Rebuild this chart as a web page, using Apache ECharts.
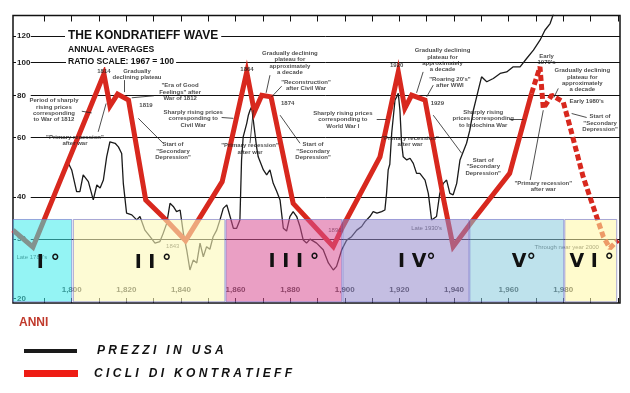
<!DOCTYPE html>
<html><head><meta charset="utf-8">
<script src="https://cdn.jsdelivr.net/npm/echarts@6/dist/echarts.min.js"></script>
<style>html,body{margin:0;padding:0;background:#fff}#c{width:630px;height:393px}</style>
</head><body><div id="c"></div>
<script>
// ---- data ----
const priceYears = [1798.2,1800.0,1801.8,1803.0,1804.2,1806.1,1807.9,1809.2,1810.4,1811.6,1812.8,1814.0,1815.9,1817.1,1818.3,1818.9,1820.1,1822.0,1823.8,1825.0,1826.8,1828.7,1830.5,1832.3,1833.5,1834.8,1836.0,1837.2,1838.4,1839.7,1840.9,1842.1,1843.3,1844.5,1845.8,1847.0,1848.2,1849.4,1850.6,1851.8,1853.1,1854.3,1855.5,1856.8,1858.0,1859.2,1860.4,1861.6,1862.2,1862.8,1864.1,1864.7,1865.3,1865.9,1866.5,1867.1,1867.7,1868.3,1868.9,1870.2,1871.4,1872.6,1873.8,1875.1,1876.3,1877.5,1878.7,1879.9,1881.1,1882.4,1883.6,1884.8,1886.0,1887.3,1889.7,1892.1,1894.0,1895.8,1897.0,1898.9,1900.7,1902.5,1904.4,1906.2,1907.4,1909.2,1910.4,1911.8,1913.5,1914.7,1915.3,1915.9,1916.5,1917.2,1918.4,1919.0,1919.6,1920.2,1920.8,1921.4,1922.7,1923.9,1925.1,1926.3,1927.5,1929.4,1930.6,1931.8,1933.6,1934.8,1936.1,1937.3,1938.5,1939.7,1941.0,1942.2,1944.6,1945.8,1947.1,1948.3,1948.9,1950.1,1952.0,1954.4,1956.9,1959.3,1961.7,1964.2,1966.6,1969.1,1971.5,1973.3,1975.2,1976.5];
const priceValues = [51.5,48.1,41.5,41.5,46.5,44.4,39.2,43.4,42.5,44.9,52.6,58.3,57.7,56.3,53.8,43.9,35.8,35.4,34.2,35.0,31.9,30.5,29.2,29.5,31.2,33.4,38.3,37.5,36.2,36.6,31.2,27.9,24.3,26.0,25.5,29.2,26.6,28.5,28.0,30.5,31.9,34.2,37.0,37.9,35.0,32.3,32.3,34.2,51.5,60.3,66.1,69.9,72.3,74.0,67.6,61.7,56.3,52.6,52.6,48.1,46.5,48.1,43.9,41.5,39.2,32.3,31.7,35.0,36.2,35.0,32.7,29.8,29.2,30.0,29.2,27.9,25.5,24.3,24.9,27.9,29.8,30.5,31.9,32.7,33.8,35.0,36.2,35.8,36.2,36.6,41.0,48.1,50.0,62.0,77.5,79.2,81.1,72.3,58.0,52.6,51.5,52.1,50.3,47.0,47.0,44.9,41.0,34.2,35.0,41.0,43.9,44.9,41.0,40.6,43.9,51.5,57.7,63.1,72.3,79.2,82.9,90.8,87.8,89.8,92.9,93.9,97.2,97.2,102.9,108.9,116.6,124.8,130.6,140];

const cycleYears = [1778.5,1785.8,1811.8,1814.0,1816.8,1820.8,1827.1,1834.2,1841.7,1855.1,1864.1,1866.9,1869.6,1873.0,1881.1,1895.8,1899.3,1912.9,1919.6,1922.0,1924.5,1929.4,1936.1,1939.7,1947.0,1960.4,1968.4];
const cycleValues = [31.9,28.4,92.5,74.4,80.7,77.5,39.2,34.4,29.7,44.4,93.9,71.5,80.1,79.2,38.3,28.5,32.7,52.6,93.9,73.2,80.1,77.5,39.7,28.5,34.2,47.0,81.1];

const forecastYears = [1968.4,1971.5,1972.7,1975.8,1980.0,1982.5,1987.3,1994.7,1997.1,2000.1];
const forecastValues = [81.1,97.2,73.2,80.1,76.6,64.6,45.9,30.5,28.2,29.8];

const xTickLabels = [1800,1820,1840,1860,1880,1900,1920,1940,1960,1980];
const xTicks = [1790,1800,1810,1820,1830,1840,1850,1860,1870,1880,1890,1900,1910,1920,1930,1940,1950,1960,1970,1980,1990,2000];
const yTickLabels = [20,30,40,60,80,100,120];
const gridValues = [30,40,60,80,100,120];

const waveNames = ['I °','I I °','I I I °','I V°','V°','V I °'];
const waveStart = [1777,1800.6,1856.5,1899.3,1945.8,1980.6];
const waveEnd = [1800,1856.1,1898.9,1945.5,1980.2,1999.6];
const waveTop = 34.3, waveBottom = 19.56;

const notes = [
 [1811.8,94.4,'1814'],
 [1823.9,92.5,'Gradually\ndeclining plateau'],
 [1839.7,81.8,'"Era of Good\nFeelings" after\nWar of 1812'],
 [1827.2,74.8,'1819'],
 [1793.5,72.3,'Period of sharply\nrising prices\ncorresponding\nto War of 1812'],
 [1801.2,59.0,'"Primary recession"\nafter war'],
 [1844.5,68.2,'Sharply rising prices\ncorresponding to\nCivil War'],
 [1837.1,54.7,'Start of\n"Secondary\nDepression"'],
 [1864.2,95.7,'1864'],
 [1879.9,100,'Gradually declining\nplateau for\napproximately\na decade'],
 [1885.8,85.8,'"Reconstruction"\nafter Civil War'],
 [1879.1,76.0,'1874'],
 [1899.3,67.8,'Sharply rising prices\ncorresponding to\nWorld War I'],
 [1865.3,55.6,'"Primary recession"\nafter war'],
 [1888.4,54.7,'Start of\n"Secondary\nDepression"'],
 [1923.9,58.6,'"Primary recession"\nafter war'],
 [1919.0,97.9,'1920'],
 [1935.8,101.7,'Gradually declining\nplateau for\napproximately\na decade'],
 [1938.5,87.6,'"Roaring 20\'s"\nafter WWI'],
 [1933.9,75.7,'1929'],
 [1950.7,68.2,'Sharply rising\nprices corresponding\nto Indochina War'],
 [1950.7,49.2,'Start of\n"Secondary\nDepression"'],
 [1972.7,43.1,'"Primary recession"\nafter war'],
 [1973.9,102.1,'Early\n1970\'s'],
 [1987.0,88.8,'Gradually declining\nplateau for\napproximately\na decade'],
 [1988.6,76.6,'Early 1980\'s'],
 [1993.5,66.2,'Start of\n"Secondary\nDepression"']
];
const lowNotes = [
 [1785.4,26.5,'Late 1780\'s'],
 [1837.0,28.5,'1843'],
 [1896.4,31.9,'1896'],
 [1930.0,32.2,'Late 1930\'s'],
 [1981.3,28.4,'Through near year 2000']
];
const arrows = [
 [1819.3,88.8,1819.3,81.8],
 [1830.1,79.8,1822.0,78.7],
 [1803.7,71.8,1807.3,71.0],
 [1809.7,62.4,1812.6,75.7],
 [1833.5,57.7,1824.4,68.4],
 [1854.9,68.8,1859.2,68.4],
 [1872.6,91.8,1871.2,81.4],
 [1876.9,85.2,1873.2,79.2],
 [1865.3,57.7,1866.5,72.3],
 [1883.6,57.7,1876.3,69.9],
 [1911.7,68.2,1915.3,68.2],
 [1928.7,93.9,1926.3,81.4],
 [1932.4,85.8,1930.0,79.2],
 [1942.8,53.9,1932.4,69.9],
 [1960.5,67.9,1965.4,67.9],
 [1967.9,44.9,1972.7,72.3],
 [1978.2,83.9,1976.6,78.9],
 [1988.6,68.8,1983.1,70.7]
];

// ---- styles ----
const F = '"Liberation Sans", Arial, sans-serif';
const waveColors = ['rgba(60,235,235,0.55)','rgba(251,249,184,0.6)','rgba(217,81,148,0.55)','rgba(148,137,203,0.55)','rgba(137,202,221,0.55)','rgba(255,248,164,0.55)'];
const waveOffsets = [[6,2],[4,2],[10,1],[11,1],[7,1],[1,1]];
const X_MIN = 1778.5, X_MAX = 2000.8, Y_MIN = 19.4, Y_MAX = 138;

const zip = (a,b) => a.map((v,i)=>[v,b[i]]);
const spaced = s => s.split(' ').map(w=>w.split('').join(' ')).join('   ');

const chart = echarts.init(document.getElementById('c'));
chart.setOption({
  animation:false,
  textStyle:{fontFamily:F},
  grid:{left:13,right:10,top:15.5,bottom:90,show:true,borderColor:'#111',borderWidth:1.5,backgroundColor:'transparent'},
  xAxis:[
    {type:'value',min:X_MIN,max:X_MAX,axisLine:{show:false},splitLine:{show:false},
     axisTick:{inside:true,length:5,customValues:xTicks,lineStyle:{color:'#111',width:1}},
     axisLabel:{inside:true,customValues:xTickLabels,fontSize:8,fontWeight:'bold',color:'#333',margin:9,fontFamily:F}},
    {type:'value',position:'top',min:X_MIN,max:X_MAX,axisLine:{show:false},splitLine:{show:false},
     axisTick:{inside:true,length:6,customValues:xTicks,lineStyle:{color:'#111',width:1}},
     axisLabel:{show:false}}
  ],
  yAxis:{type:'log',min:Y_MIN,max:Y_MAX,axisLine:{show:false},splitLine:{show:false},
     axisTick:{inside:true,length:3,customValues:yTickLabels,lineStyle:{color:'#111'}},
     axisLabel:{inside:true,customValues:yTickLabels,fontSize:8,fontWeight:'bold',color:'#222',margin:4,fontFamily:F}},
  legend:[
    {data:[{name:'PREZZI IN USA',icon:'rect',itemStyle:{color:'#1a1a1a'}}],left:19,top:340,itemWidth:53,itemHeight:4,
     formatter:spaced,textStyle:{fontSize:12,fontWeight:'bold',fontStyle:'italic',color:'#111',padding:[0,0,0,15],fontFamily:F},selectedMode:false},
    {data:[{name:'CICLI DI KONTRATIEFF',icon:'rect',itemStyle:{color:'#ee1c14'}}],left:19,top:362.5,itemWidth:54,itemHeight:7,
     formatter:spaced,textStyle:{fontSize:12,fontWeight:'bold',fontStyle:'italic',color:'#111',padding:[0,0,0,11],fontFamily:F},selectedMode:false}
  ],
  graphic:[
    {type:'text',x:65,y:36,z:100,style:{text:'THE KONDRATIEFF WAVE',font:'bold 12px "Liberation Sans"',fill:'#111',verticalAlign:'middle',backgroundColor:'#fff',padding:[1,3]}},
    {type:'text',x:68,y:49.7,z:100,style:{text:'ANNUAL AVERAGES',font:'bold 8.6px "Liberation Sans"',fill:'#111',verticalAlign:'middle'}},
    {type:'text',x:66,y:61.5,z:100,style:{text:'RATIO SCALE: 1967 = 100',font:'bold 8.6px "Liberation Sans"',fill:'#111',verticalAlign:'middle',backgroundColor:'#fff',padding:[1,2]}},
    {type:'text',x:19,y:322.5,z:100,style:{text:'ANNI',font:'bold 12px "Liberation Sans"',fill:'#c0392b',verticalAlign:'middle'}}
  ],
  series:[
    {name:'grid',type:'line',data:[],z:1,silent:true,
     markLine:{z:1,silent:true,symbol:'none',label:{show:false},lineStyle:{color:'#111',width:1,type:'solid'},
       data:gridValues.map(v=>[{coord:[1785,v]},{coord:[X_MAX,v]}])}},
    {name:'PREZZI IN USA',type:'line',data:zip(priceYears,priceValues),z:2,showSymbol:false,color:'#1a1a1a',
     lineStyle:{color:'#1a1a1a',width:1.3}},
    {name:'CICLI DI KONTRATIEFF',type:'line',data:zip(cycleYears,cycleValues),z:3,showSymbol:false,color:'#d8281e',
     lineStyle:{color:'#d8281e',width:5,join:'miter',cap:'butt'}},
    {name:'forecast',type:'line',data:zip(forecastYears,forecastValues),z:3,showSymbol:false,color:'#d8281e',
     lineStyle:{color:'#d8281e',width:5,type:[6,3]}},
    {name:'lowNotes',type:'scatter',z:3,symbolSize:0,silent:true,
     data:lowNotes.map(n=>({value:[n[0],n[1]],label:{formatter:n[2]}})),
     label:{show:true,position:'inside',fontSize:6,lineHeight:6.5,color:'#222',fontFamily:F}},
    {name:'waves',type:'line',data:[],z:8,silent:true,
     markArea:{z:8,silent:true,
       data:waveNames.map((n,i)=>[
         {name:n,xAxis:waveStart[i],yAxis:waveTop,itemStyle:{color:waveColors[i],borderColor:'rgba(110,110,200,0.6)',borderWidth:1},
          label:{offset:waveOffsets[i]}},
         {xAxis:waveEnd[i],yAxis:waveBottom}]),
       label:{show:true,position:'inside',fontSize:19,fontWeight:'bold',color:'#111',fontFamily:'"DejaVu Sans", sans-serif'}}},
    {name:'notes',type:'scatter',z:9,symbolSize:0,silent:true,
     data:notes.map(n=>({value:[n[0],n[1]],label:{formatter:n[2]}})),
     label:{show:true,position:'inside',fontSize:6,lineHeight:6.3,fontWeight:'bold',color:'#1a1a1a',fontFamily:F},
     markLine:{z:9,silent:true,symbol:['none','arrow'],symbolSize:[0,4],label:{show:false},lineStyle:{color:'#222',width:0.8,type:'solid'},
       data:arrows.map(a=>[{coord:[a[0],a[1]]},{coord:[a[2],a[3]]}])}}
  ]
});
</script></body></html>
